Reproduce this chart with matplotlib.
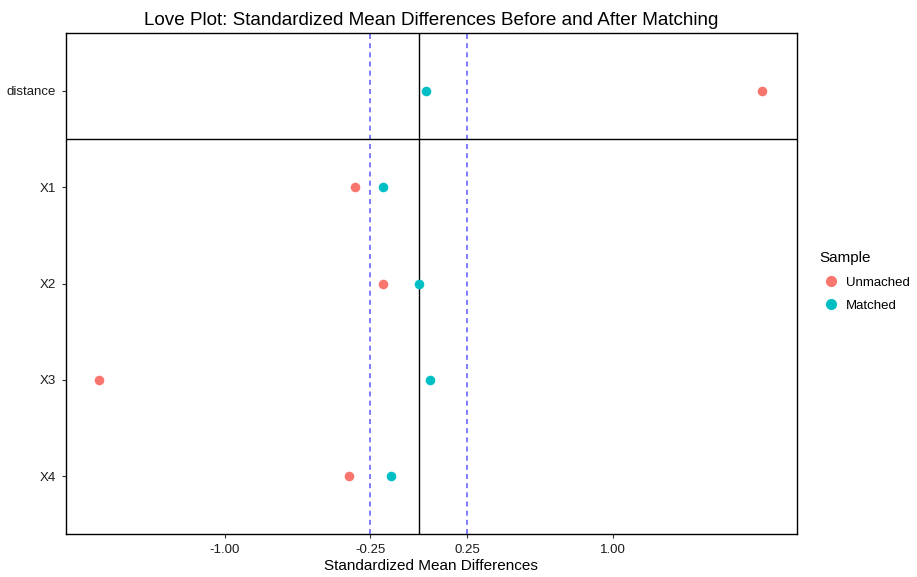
import matplotlib
matplotlib.use("Agg")
import matplotlib.pyplot as plt
from matplotlib.lines import Line2D

plt.rcParams['font.family'] = ['Liberation Sans', 'DejaVu Sans']

# data
covariates = ["distance", "X1", "X2", "X3", "X4"]
smd_unmatched = [1.77, -0.331, -0.183, -1.651, -0.360]
smd_matched = [0.038, -0.183, 0.0, 0.055, -0.146]
xticks = [-1.0, -0.25, 0.25, 1.0]
xtick_labels = ["-1.00", "-0.25", "0.25", "1.00"]
threshold = 0.25

col_un = "#F8766D"
col_m = "#00BFC4"

fig = plt.figure(figsize=(9.17, 5.77), dpi=100)
ax = fig.add_axes([0.0716, 0.0745, 0.797, 0.8683])

ypos = list(range(1, len(covariates) + 1))

ax.axvline(0, color="black", lw=1.0, zorder=1)
ax.axvline(-threshold, color="#6666ff", lw=1.2, ls=(0, (3, 2.5)), zorder=1)
ax.axvline(threshold, color="#6666ff", lw=1.2, ls=(0, (3, 2.5)), zorder=1)
ax.axhline(1.5, color="black", lw=1.0, zorder=1)

ax.scatter(smd_unmatched, ypos, s=48, color=col_un, zorder=3, linewidths=0)
ax.scatter(smd_matched, ypos, s=48, color=col_m, zorder=3, linewidths=0)

ax.set_xlim(-1.821, 1.947)
ax.set_ylim(5.6, 0.4)
ax.set_xticks(xticks)
ax.set_xticklabels(xtick_labels)
ax.set_yticks(ypos)
ax.set_yticklabels(covariates)
ax.tick_params(axis="both", labelsize=9.5, length=3, width=0.8, color="#333333",
               labelcolor="#1a1a1a", pad=4)

for sp in ax.spines.values():
    sp.set_color("black")
    sp.set_linewidth(1.0)

ax.set_xlabel("Standardized Mean Differences", fontsize=11, labelpad=2)
ax.set_title("Love Plot: Standardized Mean Differences Before and After Matching",
             fontsize=13.6, pad=6)

handles = [
    Line2D([], [], ls="", marker="o", markersize=7, color=col_un, label="Unmached"),
    Line2D([], [], ls="", marker="o", markersize=7, color=col_m, label="Matched"),
]
leg = fig.legend(handles=handles, title="Sample", loc="center left",
                 bbox_to_anchor=(0.876, 0.512), frameon=False, fontsize=9.5,
                 title_fontsize=11, handletextpad=0.25, labelspacing=0.85,
                 handlelength=1.8, borderpad=0.7)
leg._legend_box.align = "left"

fig.savefig("out.png", dpi=100)
